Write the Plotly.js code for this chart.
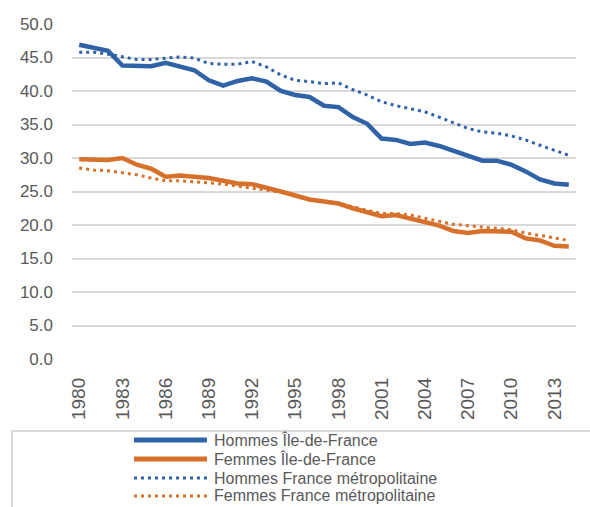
<!DOCTYPE html>
<html>
<head>
<meta charset="utf-8">
<script src="https://cdn.plot.ly/plotly-3.0.1.min.js"></script>
<style>html,body{margin:0;padding:0;background:#fff;}#chart{width:590px;height:507px;}</style>
</head>
<body>
<div id="chart"></div>
<script>
const years = [1980,1981,1982,1983,1984,1985,1986,1987,1988,1989,1990,1991,1992,1993,1994,1995,1996,1997,1998,1999,2000,2001,2002,2003,2004,2005,2006,2007,2008,2009,2010,2011,2012,2013,2014];
const tickYears = [1980,1983,1986,1989,1992,1995,1998,2001,2004,2007,2010,2013];
const hommesIDF = [46.9,46.4,46.0,43.8,43.8,43.7,44.2,43.7,43.1,41.6,40.8,41.5,41.9,41.4,40.0,39.4,39.1,37.8,37.6,36.1,35.1,32.9,32.7,32.1,32.3,31.8,31.1,30.3,29.6,29.6,29.0,28.0,26.8,26.2,26.0];
const femmesIDF = [29.8,29.7,29.7,30.0,29.0,28.4,27.2,27.4,27.2,27.0,26.6,26.2,26.1,25.6,25.0,24.4,23.8,23.5,23.2,22.5,21.9,21.3,21.5,21.0,20.4,19.9,19.1,18.8,19.1,19.1,19.0,18.0,17.7,16.9,16.8];
const hommesFrance = [45.8,45.8,45.5,45.1,44.7,44.7,44.9,45.1,44.9,44.1,44.0,44.0,44.4,43.6,42.4,41.6,41.4,41.1,41.2,40.2,39.4,38.4,37.8,37.4,36.9,36.1,35.2,34.4,33.9,33.7,33.3,32.7,31.9,31.1,30.4];
const femmesFrance = [28.5,28.2,28.1,27.8,27.5,27.0,26.6,26.6,26.5,26.3,26.1,25.8,25.6,25.3,24.9,24.4,23.7,23.5,23.2,22.7,22.2,21.7,21.7,21.5,21.0,20.6,20.1,19.9,19.7,19.5,19.3,18.8,18.4,18.0,17.7];
const seriesNames = ['Hommes Île-de-France','Femmes Île-de-France','Hommes France métropolitaine','Femmes France métropolitaine'];

const BLUE = '#2F62A6', ORANGE = '#D6702B', TEXT = '#595959', GRID = '#d9d9d9';
const FONT = 'Liberation Sans, Arial, sans-serif';
const DOT = '3px,4px';
const styles = [
  {color: BLUE, width: 4.5, dash: 'solid'},
  {color: ORANGE, width: 4.5, dash: 'solid'},
  {color: BLUE, width: 3, dash: DOT},
  {color: ORANGE, width: 3, dash: DOT}
];
const values = [hommesIDF, femmesIDF, hommesFrance, femmesFrance];
const traces = values.map((v, i) => ({
  type: 'scatter', mode: 'lines', x: years, y: v, name: seriesNames[i],
  line: {color: styles[i].color, width: styles[i].width, dash: styles[i].dash},
  showlegend: false, hoverinfo: 'skip'
}));

// plot area in pixels: left 72, right 576, top 24, bottom 359
const L = 72, R = 576, T = 24, B = 359;
const px = x => (x - L) / (R - L);
const py = y => (B - y) / (B - T);

const shapes = [
  {type: 'rect', xref: 'paper', yref: 'paper', x0: px(12), x1: px(620), y0: py(540), y1: py(431),
   line: {color: GRID, width: 2}, fillcolor: 'rgba(0,0,0,0)', layer: 'above'}
];
const annotations = [];
const rowY = [440, 459, 478, 496];
seriesNames.forEach((n, i) => {
  shapes.push({type: 'line', xref: 'paper', yref: 'paper', x0: px(134), x1: px(207), y0: py(rowY[i]), y1: py(rowY[i]),
    line: {color: styles[i].color, width: i < 2 ? 5 : 3, dash: styles[i].dash}});
  annotations.push({xref: 'paper', yref: 'paper', x: px(213), y: py(rowY[i]), xanchor: 'left', yanchor: 'middle',
    text: n, showarrow: false, borderpad: 0, font: {family: FONT, size: 16, color: TEXT}});
});

const layout = {
  width: 590, height: 507,
  margin: {l: L, r: 590 - R, t: T, b: 507 - B, pad: 0},
  paper_bgcolor: '#fff', plot_bgcolor: '#fff',
  showlegend: false,
  font: {family: FONT, color: TEXT},
  xaxis: {
    range: [1979.5, 2014.5], tickmode: 'array', tickvals: tickYears, ticktext: tickYears.map(String),
    tickangle: -90, showgrid: false, zeroline: false, showline: false, ticks: '',
    ticklabelstandoff: 14,
    tickfont: {family: FONT, size: 19, color: TEXT}
  },
  yaxis: {
    range: [0, 50], dtick: 5, tickformat: '.1f', showgrid: true, gridcolor: GRID, gridwidth: 2,
    zeroline: false, showline: false, ticks: '', ticklabelstandoff: 18,
    tickfont: {family: FONT, size: 17, color: TEXT}
  },
  shapes: shapes,
  annotations: annotations
};

Plotly.newPlot('chart', traces, layout, {displayModeBar: false, staticPlot: true});
</script>
</body>
</html>
